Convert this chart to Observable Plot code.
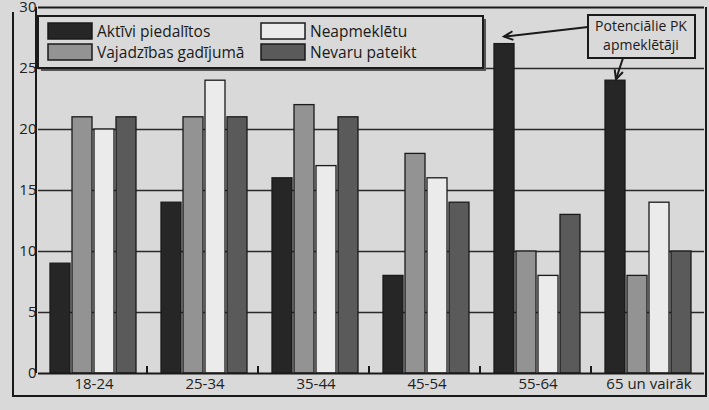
<!DOCTYPE html>
<html>
<head>
<meta charset="utf-8">
<script src="https://cdn.jsdelivr.net/npm/d3@7"></script>
<script src="https://cdn.jsdelivr.net/npm/@observablehq/plot@0.6"></script>
<style>
  html, body { margin: 0; padding: 0; background: #d9d9d9; }
  #chart { width: 709px; height: 410px; }
  svg { display: block; }
  g[aria-label$="tick label"] { font-size: 15px; }
</style>
</head>
<body>
<div id="chart"></div>
<script>
const groups = ["18-24", "25-34", "35-44", "45-54", "55-64", "65 un vairāk"];
const series = ["Aktīvi piedalītos", "Vajadzības gadījumā", "Neapmeklētu", "Nevaru pateikt"];
const aktivi = [9, 14, 16, 8, 27, 24];
const vajadzibas = [21, 21, 22, 18, 10, 8];
const neapmekletu = [20, 24, 17, 16, 8, 14];
const nevaru = [21, 21, 21, 14, 13, 10];
const yTicks = [0, 5, 10, 15, 20, 25, 30];
const gridValues = [5, 10, 15, 20, 25];
const annotationLines = ["Potenciālie PK", "apmeklētāji"];
const annotatedGroups = ["55-64", "65 un vairāk"];

const seriesValues = [aktivi, vajadzibas, neapmekletu, nevaru];
const rows = [];
groups.forEach((g, i) => series.forEach((s, j) => rows.push({group: g, series: s, value: seriesValues[j][i]})));
const valueOf = (g, s) => seriesValues[series.indexOf(s)][groups.indexOf(g)];

const paper = "#d9d9d9";
const colors = ["#262626", "#939393", "#ebebeb", "#5a5a5a"];
const font = "'Open Sans', 'Noto Sans', sans-serif";

const plot = Plot.plot({
  width: 709,
  height: 410,
  marginLeft: 36,
  marginRight: 3,
  marginTop: 7,
  marginBottom: 37,
  style: {background: "transparent", fontFamily: font, fontSize: "15px", color: "#222"},
  fx: {domain: groups, padding: 0, label: null, tickSize: 0, tickPadding: 5, axis: "bottom"},
  x: {domain: series, paddingInner: 0.08, paddingOuter: 0.55, axis: null},
  y: {domain: [0, 30], ticks: yTicks, tickSize: 0, tickPadding: 2, label: null},
  color: {domain: series, range: colors},
  marks: [
    Plot.ruleY(gridValues, {stroke: "#2a2a2a", strokeWidth: 1.5}),
    Plot.ruleY([30], {stroke: "#1a1a1a", strokeWidth: 2}),
    Plot.barY(rows, {fx: "group", x: "series", y: "value", fill: "series", stroke: "#1a1a1a", strokeWidth: 1.3}),
    Plot.ruleY([0], {stroke: "#1a1a1a", strokeWidth: 2})
  ]
});
document.getElementById("chart").appendChild(plot);

// Decorations using the plot's scales
const svg = d3.select(plot);
const fx = plot.scale("fx");
const xs = plot.scale("x");
const ys = plot.scale("y");
const bw = xs.bandwidth;
const left = 36, right = 706, y0 = ys.apply(0), yTop = ys.apply(30);
const groupX = g => left + fx.apply(g) - fx.apply(groups[0]);
const inGroupX = s => xs.apply(s) - xs.range[0];
const deco = svg.append("g").attr("stroke", "#1a1a1a").attr("fill", "none");

// y axis line
deco.append("line").attr("x1", left).attr("x2", left).attr("y1", yTop).attr("y2", y0).attr("stroke-width", 2);
// outer frame
deco.append("path").attr("d", `M13,12V396H${right}V${yTop}`).attr("stroke-width", 2);
// group boundary ticks on baseline
groups.slice(1).forEach(g => {
  const gx = groupX(g);
  deco.append("line").attr("x1", gx).attr("x2", gx).attr("y1", y0).attr("y2", y0 - 7).attr("stroke-width", 2);
});

// Legend
const lg = svg.append("g").attr("text-anchor", "start");
lg.append("rect").attr("x", 41).attr("y", 19).attr("width", 445).attr("height", 52).attr("fill", "#555");
lg.append("rect").attr("x", 38).attr("y", 16).attr("width", 445).attr("height", 52).attr("fill", paper).attr("stroke", "#1a1a1a").attr("stroke-width", 2);
const legendPos = [[48, 23], [48, 44], [261, 23], [261, 44]];
series.forEach((s, i) => {
  const [lx, ly] = legendPos[i];
  lg.append("rect").attr("x", lx).attr("y", ly).attr("width", 44).attr("height", 16)
    .attr("fill", colors[i]).attr("stroke", "#1a1a1a").attr("stroke-width", 1.5);
  lg.append("text").attr("x", lx + 49).attr("y", ly + 14).attr("text-anchor", "start")
    .attr("font-family", font).attr("font-size", 15.5).attr("fill", "#1a1a1a").text(s);
});

// Annotation box and arrows
const ann = svg.append("g");
ann.append("rect").attr("x", 588).attr("y", 15).attr("width", 107).attr("height", 43)
  .attr("fill", paper).attr("stroke", "#1a1a1a").attr("stroke-width", 2);
annotationLines.forEach((t, i) => {
  ann.append("text").attr("x", 641).attr("y", 31 + i * 19).attr("text-anchor", "middle")
    .attr("font-family", font).attr("font-size", 14).attr("fill", "#1a1a1a").text(t);
});
const tip = g => [groupX(g) + inGroupX(series[0]) + bw / 2, ys.apply(valueOf(g, series[0]))];
function arrow(x1, y1, x2, y2) {
  const a = Math.atan2(y2 - y1, x2 - x1), L = 10, w = 0.45;
  ann.append("line").attr("x1", x1).attr("y1", y1).attr("x2", x2).attr("y2", y2)
    .attr("stroke", "#1a1a1a").attr("stroke-width", 2);
  ann.append("path")
    .attr("d", `M${x2 - L * Math.cos(a - w)},${y2 - L * Math.sin(a - w)}L${x2},${y2}L${x2 - L * Math.cos(a + w)},${y2 - L * Math.sin(a + w)}`)
    .attr("stroke", "#1a1a1a").attr("stroke-width", 2).attr("fill", "none");
}
const t1 = tip(annotatedGroups[0]);
arrow(588, 27, t1[0] + 2, t1[1] - 7);
const t2 = tip(annotatedGroups[1]);
arrow(623, 58, t2[0] + 3, t2[1] - 1);
</script>
</body>
</html>
